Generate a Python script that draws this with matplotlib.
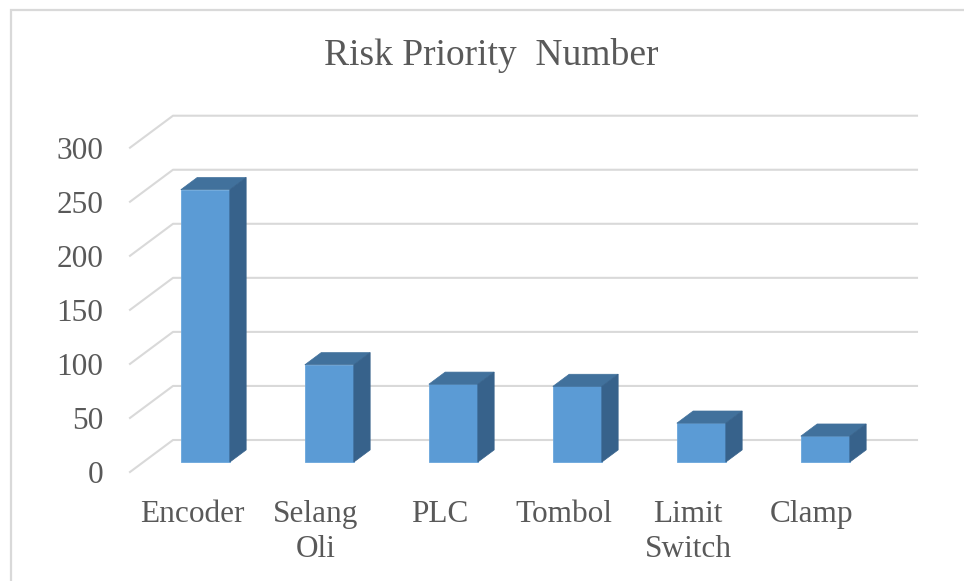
import numpy as np
import matplotlib
matplotlib.use('Agg')
import matplotlib.pyplot as plt
from matplotlib.patches import Polygon, Rectangle

categories = ['Encoder', 'Selang\nOli', 'PLC', 'Tombol', 'Limit\nSwitch', 'Clamp']
rpn = [252, 90, 72, 70, 36, 24]
yticks = [0, 50, 100, 150, 200, 250, 300]

plt.rcParams['font.family'] = ['Liberation Serif', 'DejaVu Serif']
txt_col = '#595959'
grid_col = '#d9d9d9'

W, H = 964, 581
fig = plt.figure(figsize=(W / 100, H / 100), dpi=100)

# chart border (only left/top edge visible in the crop)
fig.patches.append(Rectangle((11 / W, -0.05), 1.2, (H - 10) / H + 0.05,
                             transform=fig.transFigure, fill=False,
                             ec=grid_col, lw=1.6))

# axes: front plane, x from -0.5 .. ; y value 0 at bottom
px_per_cat = 124.0
px_per_val = 1.081
left_px, right_px, bot_px, top_px = 130, 917, 472, 115
ax = fig.add_axes([left_px / W, 1 - bot_px / H, (right_px - left_px) / W, (bot_px - top_px) / H])
ax.set_xlim(-0.5, -0.5 + (right_px - left_px) / px_per_cat)
ax.set_ylim(0, (bot_px - top_px) / px_per_val)
ax.patch.set_alpha(0)
for s in ax.spines.values():
    s.set_visible(False)

# depth of the floor in data units
ddx = 43 / px_per_cat
ddy = 32 / px_per_val
n = len(categories)

# gridlines: diagonal on the side wall then along back wall
for v in yticks:
    ax.plot([-0.5, -0.5 + ddx, n - 0.5 + ddx], [v, v + ddy, v + ddy],
            color=grid_col, lw=1.5, zorder=1, clip_on=False)

# 3d bars
f0, f1 = 0.31, 0.69
bw = 0.395
x = np.arange(n)
xf = x + f0 * ddx
yb = f0 * ddy
ax.bar(xf, rpn, width=bw, bottom=yb, color='#5b9bd5', edgecolor='#6aa6dc',
       lw=0.6, zorder=3)
dx = (f1 - f0) * ddx
dy = (f1 - f0) * ddy
for xi, v in zip(xf, rpn):
    xl, xr = xi - bw / 2, xi + bw / 2
    top = [(xl, yb + v), (xr, yb + v), (xr + dx, yb + v + dy), (xl + dx, yb + v + dy)]
    side = [(xr, yb), (xr + dx, yb + dy), (xr + dx, yb + v + dy), (xr, yb + v)]
    ax.add_patch(Polygon(top, closed=True, fc='#41719c', ec='#41719c', lw=0.5, zorder=3))
    ax.add_patch(Polygon(side, closed=True, fc='#37628b', ec='#37628b', lw=0.5, zorder=3))

ax.set_yticks(yticks)
ax.set_yticklabels([str(t) for t in yticks], fontsize=22.5, color=txt_col)
ax.set_xticks(x)
ax.set_xticklabels(categories, fontsize=22.5, color=txt_col, linespacing=1.3)
ax.tick_params(axis='y', length=0, pad=19)
ax.tick_params(axis='x', length=0, pad=20)

fig.text(0.51, 1 - 65 / H, 'Risk Priority  Number', ha='center', va='baseline',
         fontsize=27, color=txt_col)

fig.savefig('out.png', dpi=100)
